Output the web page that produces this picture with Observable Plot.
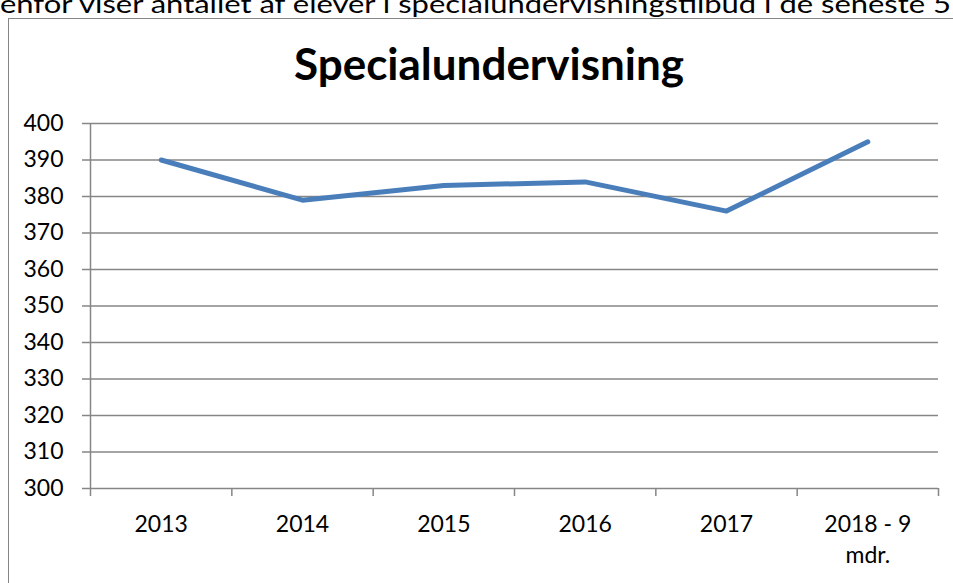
<!DOCTYPE html>
<html>
<head>
<meta charset="utf-8">
<script src="https://cdn.jsdelivr.net/npm/d3@7"></script>
<script src="https://cdn.jsdelivr.net/npm/@observablehq/plot@0.6"></script>
<style>
  html, body { margin: 0; padding: 0; background: #fff; overflow: hidden; }
  #wrap { position: relative; width: 953px; height: 583px; overflow: hidden; font-family: Lato, "Open Sans", sans-serif; }
  #intro { position: absolute; left: 0; top: 0; }
  #frame { position: absolute; left: 8px; top: 18px; width: 1000px; height: 700px; border: 1.5px solid #868686; box-sizing: border-box; }
  #title { position: absolute; left: 0; width: 978px; top: 38px; text-align: center; font-weight: bold; font-size: 44px; line-height: 50px; color: #000; }
  #chart { position: absolute; left: 0; top: 0; }
</style>
</head>
<body>
<div id="wrap">
  <div id="frame"></div>
  <svg id="intro" width="953" height="20"><text x="0" y="13" font-family="Lato" font-size="25" textLength="951" lengthAdjust="spacingAndGlyphs" fill="#000">enfor viser antallet af elever i specialundervisningstilbud i de seneste 5</text></svg>
  <div id="title">Specialundervisning</div>
  <div id="chart"></div>
</div>
<script>
const categories = ["2013", "2014", "2015", "2016", "2017", "2018 - 9\nmdr."];
const values = [390, 379, 383, 384, 376, 395];
const yTicks = [300, 310, 320, 330, 340, 350, 360, 370, 380, 390, 400];

const data = categories.map((c, i) => ({idx: i + 0.5, label: c, value: values[i]}));
const bounds = d3.range(0, categories.length + 1);
const gray = "#868686";

const plot = Plot.plot({
  width: 953,
  height: 583,
  marginLeft: 90,
  marginRight: 15,
  marginTop: 123,
  marginBottom: 95,
  style: {fontFamily: "Lato, 'Open Sans', sans-serif", fontSize: "23px", background: "transparent", overflow: "visible"},
  x: {type: "linear", domain: [0, categories.length], axis: null},
  y: {domain: [300, 400], axis: null},
  marks: [
    Plot.ruleY(yTicks, {stroke: gray, strokeWidth: 1.5}),
    Plot.ruleX([0], {stroke: gray, strokeWidth: 1.5}),
    Plot.axisY({ticks: yTicks, tickSize: 8, tickPadding: 19, stroke: gray, strokeWidth: 1.5, fill: "#000", fontSize: 23, label: null}),
    Plot.axisX({ticks: bounds, tickSize: 8, tickFormat: () => "", stroke: gray, strokeWidth: 1.5, label: null}),
    Plot.text(data, {x: "idx", frameAnchor: "bottom", text: "label", lineAnchor: "top", dy: 21, fontSize: 23, lineHeight: 1.36, fill: "#000"}),
    Plot.line(data, {x: "idx", y: "value", stroke: "#4a7ebb", strokeWidth: 5, strokeLinecap: "round", strokeLinejoin: "round"})
  ]
});
document.getElementById("chart").appendChild(plot);
</script>
</body>
</html>
